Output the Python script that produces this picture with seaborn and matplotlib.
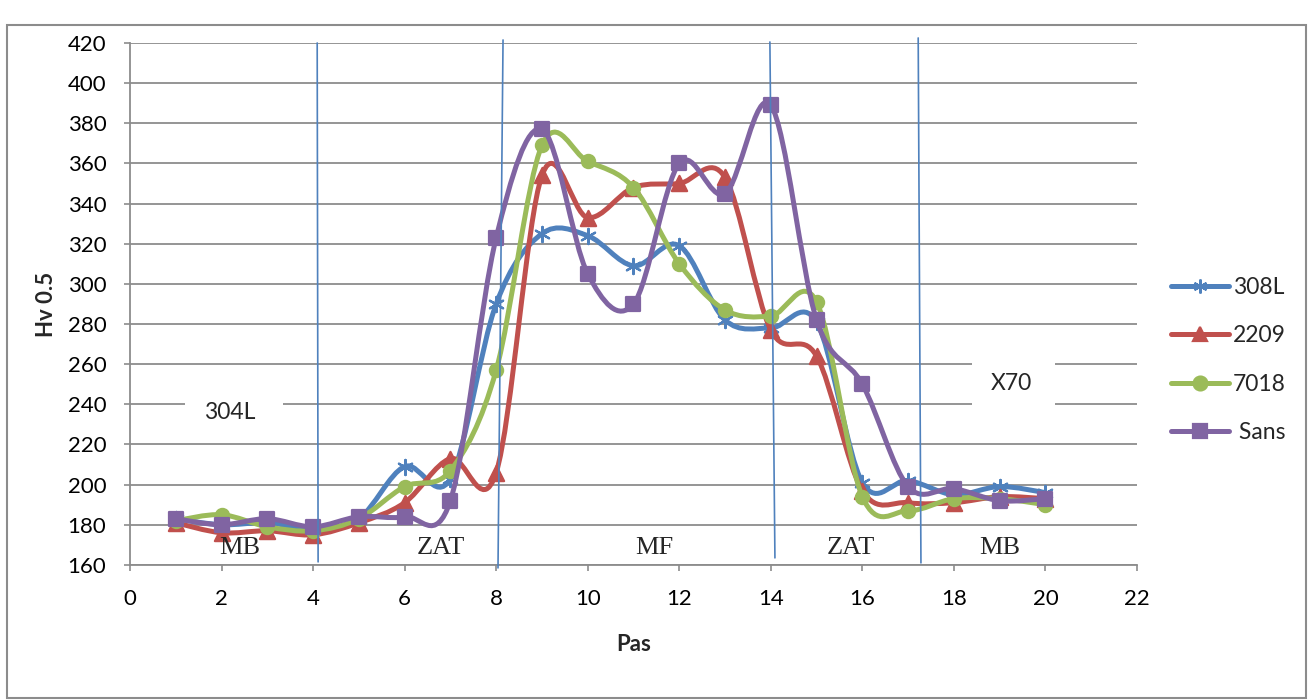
import numpy as np
import pandas as pd
import seaborn as sns
import matplotlib
matplotlib.use("Agg")
from matplotlib import pyplot as plt
from matplotlib.path import Path
from matplotlib.patches import PathPatch, Rectangle
from matplotlib.lines import Line2D

# data
pas = list(range(1, 21))
hv_308L = [183, 180, 181, 178, 183, 209, 203, 290, 325, 324, 309, 319, 282, 278, 281, 201, 202, 195, 199, 196]
hv_2209 = [181, 176, 177, 175, 181, 191, 213, 206, 354, 333, 348, 350, 353, 277, 264, 197, 191, 191, 194, 193]
hv_7018 = [182, 185, 179, 177, 183, 199, 207, 257, 369, 361, 348, 310, 287, 284, 291, 194, 187, 193, 193, 190]
hv_sans = [183, 180, 183, 179, 184, 184, 192, 323, 377, 305, 290, 360, 345, 389, 282, 250, 199, 198, 192, 193]

series_names = ["308L", "2209", "7018", " Sans"]
series_values = [hv_308L, hv_2209, hv_7018, hv_sans]
colors = ["#4F81BD", "#C0504D", "#9BBB59", "#8064A2"]
markers = [(6, 2, 0), "^", "o", "s"]
marker_sizes = [120, 120, 90, 110]

zones = ["MB", "ZAT", "MF", "ZAT", "MB"]
zone_x = [2.4, 6.8, 11.45, 15.75, 19.0]
boundaries = [((4.09, 4.11), (420, 161.5)),
              ((8.15, 8.04), (421.5, 158.5)),
              ((13.98, 14.09), (420.5, 163.5)),
              ((17.22, 17.28), (422.5, 161))]

df = pd.DataFrame({"Pas": pas * 4,
                   "Hv": sum(series_values, []),
                   "serie": sum([[n] * len(pas) for n in series_names], [])})


def smooth_path(xs, ys):
    # excel style smoothed line (cubic bezier through the points)
    pts = np.column_stack([xs, ys]).astype(float)
    n = len(pts)
    verts = [pts[0]]
    codes = [Path.MOVETO]
    for i in range(n - 1):
        p0 = pts[max(i - 1, 0)]
        p1 = pts[i]
        p2 = pts[i + 1]
        p3 = pts[min(i + 2, n - 1)]
        verts += [p1 + (p2 - p0) / 6, p2 - (p3 - p1) / 6, p2]
        codes += [Path.CURVE4] * 3
    return Path(verts, codes)


sns.set_theme(style="white")
plt.rcParams["font.family"] = ["Lato", "DejaVu Sans"]

fig = plt.figure(figsize=(13.09, 7), dpi=100)
ax = fig.add_subplot(111)
fig.subplots_adjust(left=0.0993, right=0.8686, top=0.9386, bottom=0.193)

# horizontal gridlines
ax.set_ylim(160, 420)
ax.set_xlim(0, 22)
ax.set_yticks(range(160, 421, 20))
ax.set_xticks(range(0, 23, 2))
ax.yaxis.grid(True, color="#8C8C8C", linewidth=1.3)
ax.xaxis.grid(False)
ax.set_axisbelow(True)
for side in ["top", "right"]:
    ax.spines[side].set_visible(False)
for side in ["left", "bottom"]:
    ax.spines[side].set_color("#8C8C8C")
    ax.spines[side].set_linewidth(1.3)
ax.tick_params(axis="both", which="major", direction="out", length=4, width=1.2,
               color="#8C8C8C", labelsize=16, labelcolor="black", left=True, bottom=True)
ax.tick_params(axis="y", pad=13)
ax.tick_params(axis="x", pad=13)

# white label boxes for the base metals
ax.add_patch(Rectangle((1.2, 224), 2.14, 32, facecolor="white", edgecolor="none", zorder=1.5))
ax.add_patch(Rectangle((18.4, 228), 1.8, 44, facecolor="white", edgecolor="none", zorder=1.5))
ax.text(2.18, 235.7, "304L", fontsize=16.5, ha="center", va="center", zorder=2)
ax.text(19.26, 250.5, "X70", fontsize=16.5, ha="center", va="center", zorder=2)

# smoothed curves + markers
for k, (name, color, mk, ms) in enumerate(zip(series_names, colors, markers, marker_sizes)):
    sub = df[df["serie"] == name]
    patch = PathPatch(smooth_path(sub["Pas"], sub["Hv"]), facecolor="none", edgecolor=color,
                      linewidth=3.6, capstyle="round", joinstyle="round", zorder=3 + k)
    ax.add_patch(patch)
    sns.scatterplot(data=sub, x="Pas", y="Hv", marker=mk, color=color, edgecolor=color,
                    s=ms, linewidth=1.6, ax=ax, zorder=3.5 + k, legend=False)

# zone boundaries
for (bx, by) in boundaries:
    ax.add_line(Line2D(bx, by, color="#4F81BD", linewidth=1.2, clip_on=False, zorder=8))

for zx, zt in zip(zone_x, zones):
    ax.text(zx, 168.6, zt, fontsize=19, ha="center", va="center",
            family=["Liberation Serif", "DejaVu Serif"], zorder=9)

ax.set_xlabel("Pas", fontsize=16, fontweight="bold", labelpad=18)
ax.set_ylabel("Hv 0.5", fontsize=16, fontweight="bold", labelpad=8)

handles = [Line2D([], [], color=c, linewidth=3.6, marker=m, markersize=10,
                  markeredgewidth=1.6, markeredgecolor=c) for c, m in zip(colors, markers)]
fig.legend(handles, series_names, loc="center left", bbox_to_anchor=(0.879, 0.486),
           frameon=False, fontsize=16.5, handlelength=2.5, handletextpad=0.2, labelspacing=1.2)

# outer chart border
fig.patches.append(Rectangle((7 / 1309, 2 / 700), 1299 / 1309, 673 / 700, transform=fig.transFigure,
                             facecolor="none", edgecolor="#8C8C8C", linewidth=1.5))

fig.savefig("out.png", dpi=100)
